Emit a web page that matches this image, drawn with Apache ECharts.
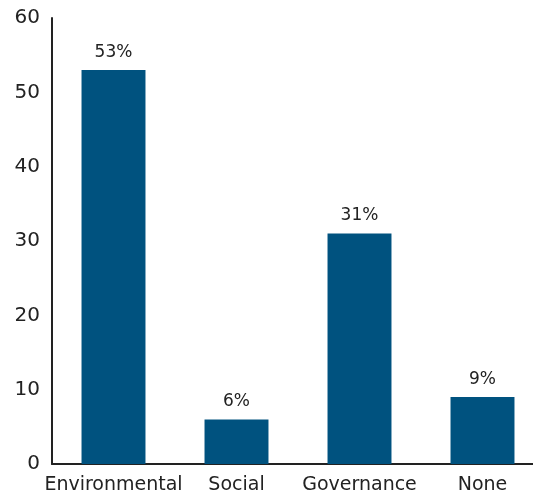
<!DOCTYPE html>
<html>
<head>
<meta charset="utf-8">
<script src="https://cdn.jsdelivr.net/npm/echarts@6/dist/echarts.min.js"></script>
<style>
  html, body { margin: 0; padding: 0; background: #ffffff; }
  #chart { width: 533px; height: 495px; }
</style>
</head>
<body>
<div id="chart"></div>
<script>
// Share of responses by ESG pillar
const categories = ['Environmental', 'Social', 'Governance', 'None'];
const shares = [53, 6, 31, 9];
const yTicks = { min: 0, max: 60, interval: 10 };

const chart = echarts.init(document.getElementById('chart'), null, { renderer: 'canvas' });
const fontFamily = '"DejaVu Sans", sans-serif';

chart.setOption({
  animation: false,
  backgroundColor: '#ffffff',
  grid: { left: 52, width: 492, top: 18, bottom: 31, containLabel: false, outerBoundsMode: 'none' },
  xAxis: {
    type: 'category',
    data: categories,
    axisLine: { show: true, lineStyle: { color: '#222', width: 2 } },
    axisTick: { show: false },
    axisLabel: { color: '#222', fontSize: 19, fontFamily: fontFamily, margin: 12, interval: 0 },
    splitLine: { show: false }
  },
  yAxis: {
    type: 'value',
    min: yTicks.min,
    max: yTicks.max,
    interval: yTicks.interval,
    axisLine: { show: true, lineStyle: { color: '#222', width: 2 } },
    axisTick: { show: false },
    axisLabel: { color: '#222', fontSize: 20, fontFamily: fontFamily, margin: 12 },
    splitLine: { show: false }
  },
  series: [{
    type: 'bar',
    data: shares,
    barWidth: '52%',
    itemStyle: { color: '#00527f' },
    label: {
      show: true,
      position: 'top',
      distance: 9,
      color: '#222',
      fontSize: 17,
      fontFamily: fontFamily,
      formatter: p => p.value + '%'
    }
  }]
});
</script>
</body>
</html>
